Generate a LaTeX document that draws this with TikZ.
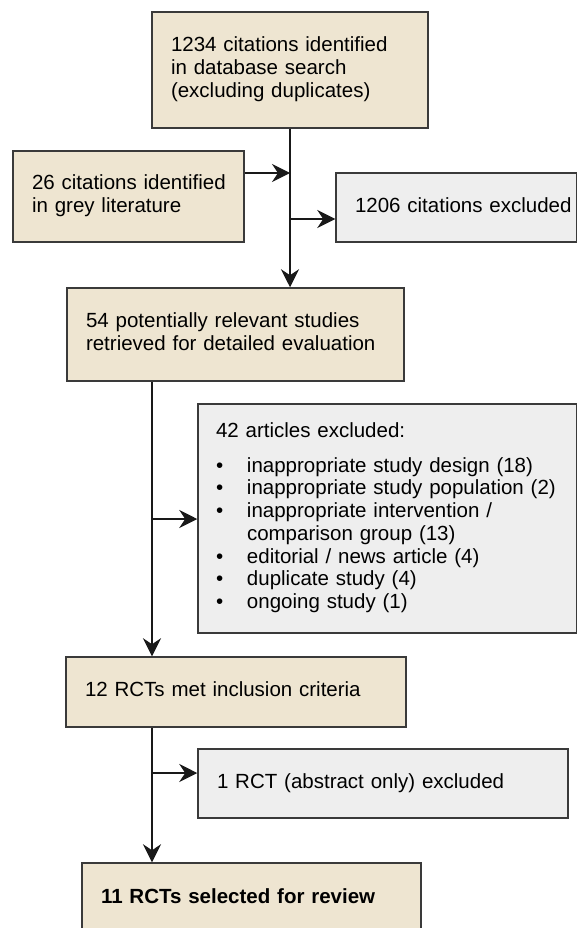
\documentclass[tikz,border=0pt]{standalone}
\usepackage{fontspec}
\setmainfont{Liberation Sans}
\usetikzlibrary{arrows.meta}

\definecolor{beige}{HTML}{EEE5D1}
\definecolor{lightgrey}{HTML}{EEEEEE}
\definecolor{edge}{HTML}{3A3A3A}

\newcommand{\boxlines}[1]{\begin{tabular}{@{}l@{}}#1\end{tabular}}
\newcommand{\listdot}{\makebox[31pt][l]{\textbullet}}

\tikzset{
  box/.style={draw=edge,line width=1.5pt,align=left,inner xsep=19pt,inner ysep=0pt,
    font=\fontsize{20.5}{22.7}\selectfont},
  stage/.style={box,fill=beige},
  dropped/.style={box,fill=lightgrey},
  flow/.style={draw=black!90,line width=1.3pt,-{Stealth[length=18pt,width=18pt,inset=6pt]}}
}

\begin{document}
\begin{tikzpicture}[x=1pt,y=-1pt]

\useasboundingbox (0,0) rectangle (577,928);

\node[stage,text width=238pt,minimum height=116pt] (db) at (290,70) {\boxlines{1234 citations identified\\in database search\\(excluding duplicates)}};
\node[stage,text width=193pt,minimum height=91pt] (grey) at (128.5,196.5) {\boxlines{26 citations identified\\in grey literature}};
\node[dropped,text width=203pt,minimum height=69pt] (cit) at (456.5,207.5) {\boxlines{1206 citations excluded}};
\node[stage,text width=299pt,minimum height=93pt] (retr) at (235.5,334.5) {\boxlines{54 potentially relevant studies\\retrieved for detailed evaluation}};
\node[dropped,inner xsep=18pt,text width=343pt,minimum height=229pt] (art) at (387.5,518.5) {\boxlines{42 articles excluded:\\[12pt]
\listdot inappropriate study design (18)\\
\listdot inappropriate study population (2)\\
\listdot inappropriate intervention /\\
\hspace*{31pt}comparison group (13)\\
\listdot editorial / news article (4)\\
\listdot duplicate study (4)\\
\listdot ongoing study (1)}};
\node[stage,text width=302pt,minimum height=70pt] (met) at (236,692) {\boxlines{12 RCTs met inclusion criteria}};
\node[dropped,text width=332pt,minimum height=69pt] (abs) at (383,783.5) {\boxlines{1 RCT (abstract only) excluded}};
\node[stage,text width=301pt,minimum height=72pt,font=\fontsize{20.5}{22.7}\selectfont\bfseries] (sel) at (251.5,899) {\boxlines{11 RCTs selected for review}};

\coordinate (j1) at (290,173);
\coordinate (j2) at (290,219);
\coordinate (j3) at (152,519);
\coordinate (j4) at (152,773);

\draw[flow] (db.south) -- (db.south |- retr.north);
\draw[flow] (grey.east |- j1) -- (j1);
\draw[flow] (j2) -- (cit.west |- j2);

\draw[flow] (retr.south -| j3) -- (j3 |- met.north);
\draw[flow] (j3) -- (art.west |- j3);

\draw[flow] (met.south -| j4) -- (j4 |- sel.north);
\draw[flow] (j4) -- (abs.west |- j4);

\end{tikzpicture}
\end{document}
